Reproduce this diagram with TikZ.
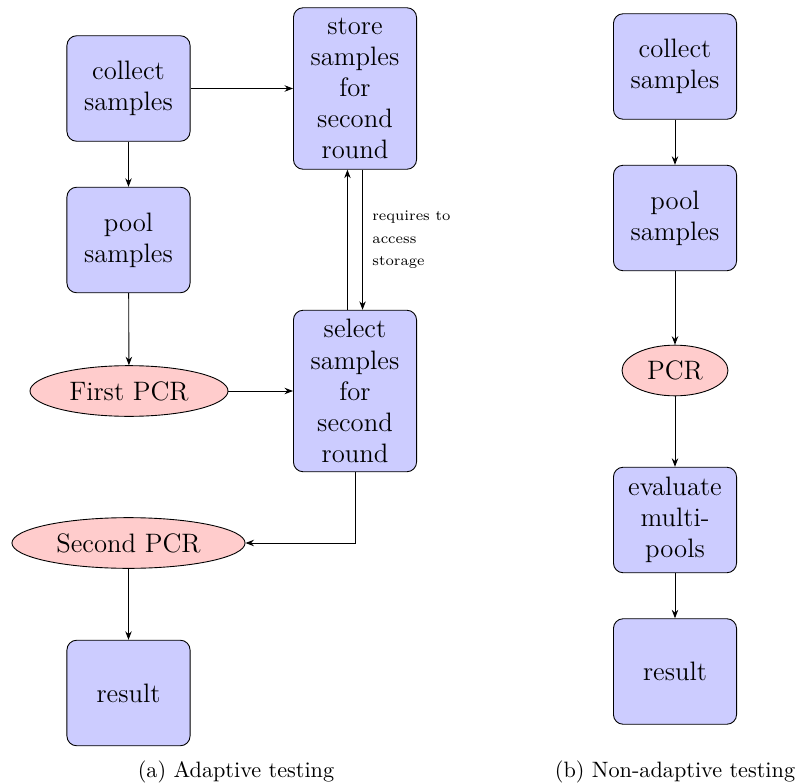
\documentclass[tikz,border=0pt]{standalone}
\usetikzlibrary{shapes.geometric,arrows.meta}
\begin{document}
\begin{tikzpicture}[x=0.45pt,y=-0.45pt,
  box/.style={draw, fill=blue!20, rounded corners=4.4pt, minimum width=55.4pt, minimum height=47.5pt, align=center, font=\large, inner sep=2pt},
  tallbox/.style={box, minimum height=72.7pt},
  oval/.style={draw, ellipse, fill=red!20, inner sep=0pt, minimum height=22.8pt, font=\large},
  arr/.style={-{Stealth[length=3.8pt,width=2.9pt]}}]
\useasboundingbox (0,0) rectangle (797,784);
% left
\node[box] (c1) at (128.5,88.5) {collect\\samples};
\node[box] (p1) at (128.5,240) {pool\\samples};
\node[oval, minimum width=89.1pt] (f1) at (129,391) {First PCR};
\node[oval, minimum width=104.9pt] (s1) at (128.5,543) {Second PCR};
\node[box] (r1) at (128.5,693) {result};
\node[tallbox] (st) at (355,88.5) {store\\samples\\for\\second\\round};
\node[tallbox] (se) at (355,391) {select\\samples\\for\\second\\round};
\node[anchor=west, align=left, font={\fontsize{6.6}{10.1}\selectfont}, inner sep=0pt] (lab) at (372,240) {requires to\\access\\storage};
\draw[arr] (c1) -- (st.west |- c1);
\draw[arr] (c1) -- (p1);
\draw[arr] (p1) -- (f1);
\draw[arr] (f1) -- (se.west |- f1);
\draw[arr] (se.south) |- (s1.east);
\draw[arr] (s1) -- (r1);
\draw[arr] ([xshift=-3.4pt]se.north) -- ([xshift=-3.4pt]st.south);
\draw[arr] ([xshift=3.4pt]st.south) -- ([xshift=3.4pt]se.north);
% right
\node[box] (c2) at (675,66.5) {collect\\samples};
\node[box] (p2) at (675,218) {pool\\samples};
\node[oval, minimum width=47.7pt] (f2) at (675,370.5) {PCR};
\node[box] (e2) at (675,520) {evaluate\\multi-\\pools};
\node[box] (r2) at (675,671.5) {result};
\draw[arr] (c2) -- (p2);
\draw[arr] (p2) -- (f2);
\draw[arr] (f2) -- (e2);
\draw[arr] (e2) -- (r2);
% captions
\node (capa) at (236,772) {(a) Adaptive testing};
\node (capb) at (675,772) {(b) Non-adaptive testing};
\end{tikzpicture}
\end{document}
